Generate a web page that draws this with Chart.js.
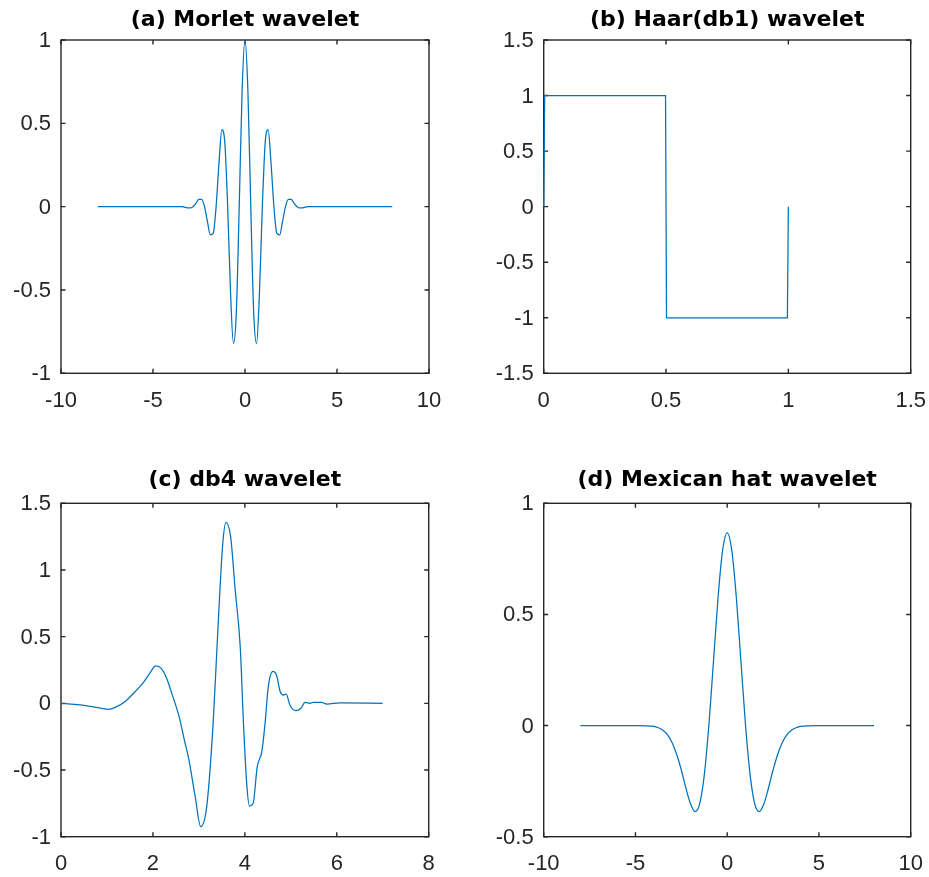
<!DOCTYPE html>
<html><head><meta charset="utf-8">
<script src="https://cdn.jsdelivr.net/npm/chart.js@4.4.1/dist/chart.umd.min.js"></script>
<style>
html,body{margin:0;padding:0;background:#fff;}
#wrap{position:relative;width:929px;height:877px;overflow:hidden;background:#fff;}
canvas{position:absolute;}
</style></head><body>
<div id="wrap">
<canvas id="ca" width="470" height="438" style="left:0px;top:0px"></canvas>
<canvas id="cb" width="480" height="438" style="left:470px;top:0px"></canvas>
<canvas id="cc" width="470" height="439" style="left:0px;top:438px"></canvas>
<canvas id="cd" width="480" height="439" style="left:470px;top:438px"></canvas>
</div>
<script>
// ---------- data ----------
const titles = ['(a) Morlet wavelet', '(b) Haar(db1) wavelet', '(c) db4 wavelet', '(d) Mexican hat wavelet'];

const morletX = [-8, -5, -3.456, -3.299, -3.142, -2.985, -2.827, -2.670, -2.513, -2.356, -2.199, -2.042, -1.885, -1.728, -1.571, -1.414, -1.257, -1.100, -0.942, -0.785, -0.628, -0.471, -0.314, -0.157, 0,
                 0.157, 0.314, 0.471, 0.628, 0.785, 0.942, 1.100, 1.257, 1.414, 1.571, 1.728, 1.885, 2.042, 2.199, 2.356, 2.513, 2.670, 2.827, 2.985, 3.142, 3.299, 3.456, 5, 8];
const morletY = [0, 0, 0, -0.003, -0.007, -0.008, 0, 0.020, 0.043, 0.044, 0, -0.088, -0.169, -0.159, 0, 0.262, 0.462, 0.388, 0, -0.519, -0.821, -0.633, 0, 0.698, 1,
                 0.698, 0, -0.633, -0.821, -0.519, 0, 0.388, 0.462, 0.262, 0, -0.159, -0.169, -0.088, 0, 0.044, 0.043, 0.020, 0, -0.008, -0.007, -0.003, 0, 0, 0];

const haarX = [0, 0.004, 0.498, 0.502, 0.996, 1];
const haarY = [0, 1, 1, -1, -1, 0];

const db4X = [0, 0.3, 0.6, 0.88, 1.03, 1.18, 1.39, 1.61, 1.79, 1.94, 2.06, 2.18, 2.30, 2.41, 2.57, 2.70, 2.77, 2.92, 3.04, 3.17, 3.31, 3.42, 3.52, 3.59, 3.69, 3.79, 3.90, 3.97, 4.04, 4.10, 4.18, 4.27, 4.37, 4.44, 4.51, 4.61, 4.69, 4.77, 4.84, 4.90, 4.98, 5.11, 5.22, 5.31, 5.42, 5.49, 5.67, 5.78, 6.07, 7.0];
const db4Y = [0, -0.008, -0.02, -0.037, -0.045, -0.03, 0.012, 0.087, 0.155, 0.23, 0.28, 0.262, 0.187, 0.075, -0.10, -0.30, -0.40, -0.70, -0.925, -0.775, -0.15, 0.60, 1.20, 1.357, 1.25, 0.85, 0.42, -0.15, -0.60, -0.77, -0.75, -0.475, -0.36, -0.15, 0.125, 0.24, 0.21, 0.087, 0.062, 0.07, -0.013, -0.055, -0.037, 0.007, 0, 0.008, 0.007, -0.005, 0.003, 0];

const hatX = [-8, -6, -5, -4, -3.75, -3.5, -3.25, -3, -2.75, -2.5, -2.25, -2, -1.75, -1.5, -1.25, -1, -0.75, -0.5, -0.25, 0,
              0.25, 0.5, 0.75, 1, 1.25, 1.5, 1.75, 2, 2.25, 2.5, 2.75, 3, 3.25, 3.5, 3.75, 4, 5, 6, 8];
const hatY = [0, 0, -0.0003, -0.004, -0.010, -0.021, -0.042, -0.077, -0.130, -0.200, -0.281, -0.352, -0.387, -0.352, -0.223, 0, 0.286, 0.574, 0.788, 0.867,
              0.788, 0.574, 0.286, 0, -0.223, -0.352, -0.387, -0.352, -0.281, -0.200, -0.130, -0.077, -0.042, -0.021, -0.010, -0.004, -0.0003, 0, 0];

// tick values
const xTicksA = [-10, -5, 0, 5, 10];
const yTicksA = [-1, -0.5, 0, 0.5, 1];
const xTicksB = [0, 0.5, 1, 1.5];
const yTicksB = [-1.5, -1, -0.5, 0, 0.5, 1, 1.5];
const xTicksC = [0, 2, 4, 6, 8];
const yTicksC = [-1, -0.5, 0, 0.5, 1, 1.5];
const xTicksD = [-10, -5, 0, 5, 10];
const yTicksD = [-0.5, 0, 0.5, 1];

// ---------- style ----------
const LINE = '#0072BD';
const AX = '#262626';
const TICK_FONT = '"Liberation Sans", Arial, sans-serif';
const TITLE_FONT = '"DejaVu Sans", sans-serif';

const boxPlugin = {
  id: 'mbox',
  beforeDatasetsDraw(chart) {
    const {ctx, chartArea: a} = chart;
    const xs = chart.scales.x, ys = chart.scales.y;
    const L = 4.5;
    ctx.save();
    ctx.strokeStyle = AX;
    ctx.lineWidth = 1.4;
    ctx.beginPath();
    xs.ticks.forEach(t => {
      const p = xs.getPixelForValue(t.value);
      ctx.moveTo(p, a.bottom); ctx.lineTo(p, a.bottom - L);
      ctx.moveTo(p, a.top); ctx.lineTo(p, a.top + L);
    });
    ys.ticks.forEach(t => {
      const p = ys.getPixelForValue(t.value);
      ctx.moveTo(a.left, p); ctx.lineTo(a.left + L, p);
      ctx.moveTo(a.right, p); ctx.lineTo(a.right - L, p);
    });
    ctx.stroke();
    ctx.strokeRect(a.left, a.top, a.right - a.left, a.bottom - a.top);
    ctx.restore();
  }
};

function make(id, title, xs, ys, xTicks, yTicks, smooth, L) {
  const pts = xs.map((x, i) => ({x: x, y: ys[i]}));
  return new Chart(document.getElementById(id), {
    type: 'scatter',
    data: {datasets: [{
      data: pts, showLine: true, borderColor: LINE, borderWidth: 1.25,
      pointRadius: 0, pointHoverRadius: 0, fill: false, clip: false,
      tension: 0, cubicInterpolationMode: smooth ? 'monotone' : 'default'
    }]},
    options: {
      responsive: false, animation: false, devicePixelRatio: 1, events: [],
      layout: {padding: {left: 0, right: L.padR, top: 0, bottom: 0}},
      plugins: {
        legend: {display: false}, tooltip: {enabled: false},
        title: {display: true, text: title, fullSize: false, color: '#000',
          font: {family: TITLE_FONT, size: 22, weight: 'bold', lineHeight: 1.2},
          padding: {top: L.tTop, bottom: L.tBot}}
      },
      scales: {
        x: {
          type: 'linear', min: xTicks[0], max: xTicks[xTicks.length - 1],
          grid: {display: false, drawTicks: false}, border: {display: false},
          afterBuildTicks: s => { s.ticks = xTicks.map(v => ({value: v})); },
          afterFit: s => { s.height = L.xH; },
          ticks: {color: AX, font: {family: TICK_FONT, size: 22}, padding: 14,
            maxRotation: 0, autoSkip: false, callback: v => String(v)}
        },
        y: {
          type: 'linear', min: yTicks[0], max: yTicks[yTicks.length - 1],
          grid: {display: false, drawTicks: false}, border: {display: false},
          afterBuildTicks: s => { s.ticks = yTicks.map(v => ({value: v})); },
          afterFit: s => { s.width = L.yW; },
          ticks: {color: AX, font: {family: TICK_FONT, size: 22}, padding: 10,
            labelOffset: 1, autoSkip: false, callback: v => String(v)}
        }
      }
    },
    plugins: [boxPlugin]
  });
}

make('ca', titles[0], morletX, morletY, xTicksA, yTicksA, true,  {padR: 41,   tTop: 6.8,  tBot: 6.8,  yW: 61,   xH: 64.7});
make('cb', titles[1], haarX,   haarY,   xTicksB, yTicksB, false, {padR: 39.3, tTop: 6.8,  tBot: 6.8,  yW: 73.7, xH: 64.7});
make('cc', titles[2], db4X,    db4Y,    xTicksC, yTicksC, true,  {padR: 41.3, tTop: 29.5, tBot: 9.4,  yW: 61,   xH: 40.3});
make('cd', titles[3], hatX,    hatY,    xTicksD, yTicksD, true,  {padR: 39.3, tTop: 29.5, tBot: 9.4,  yW: 73.7, xH: 40.3});
</script>
</body></html>
